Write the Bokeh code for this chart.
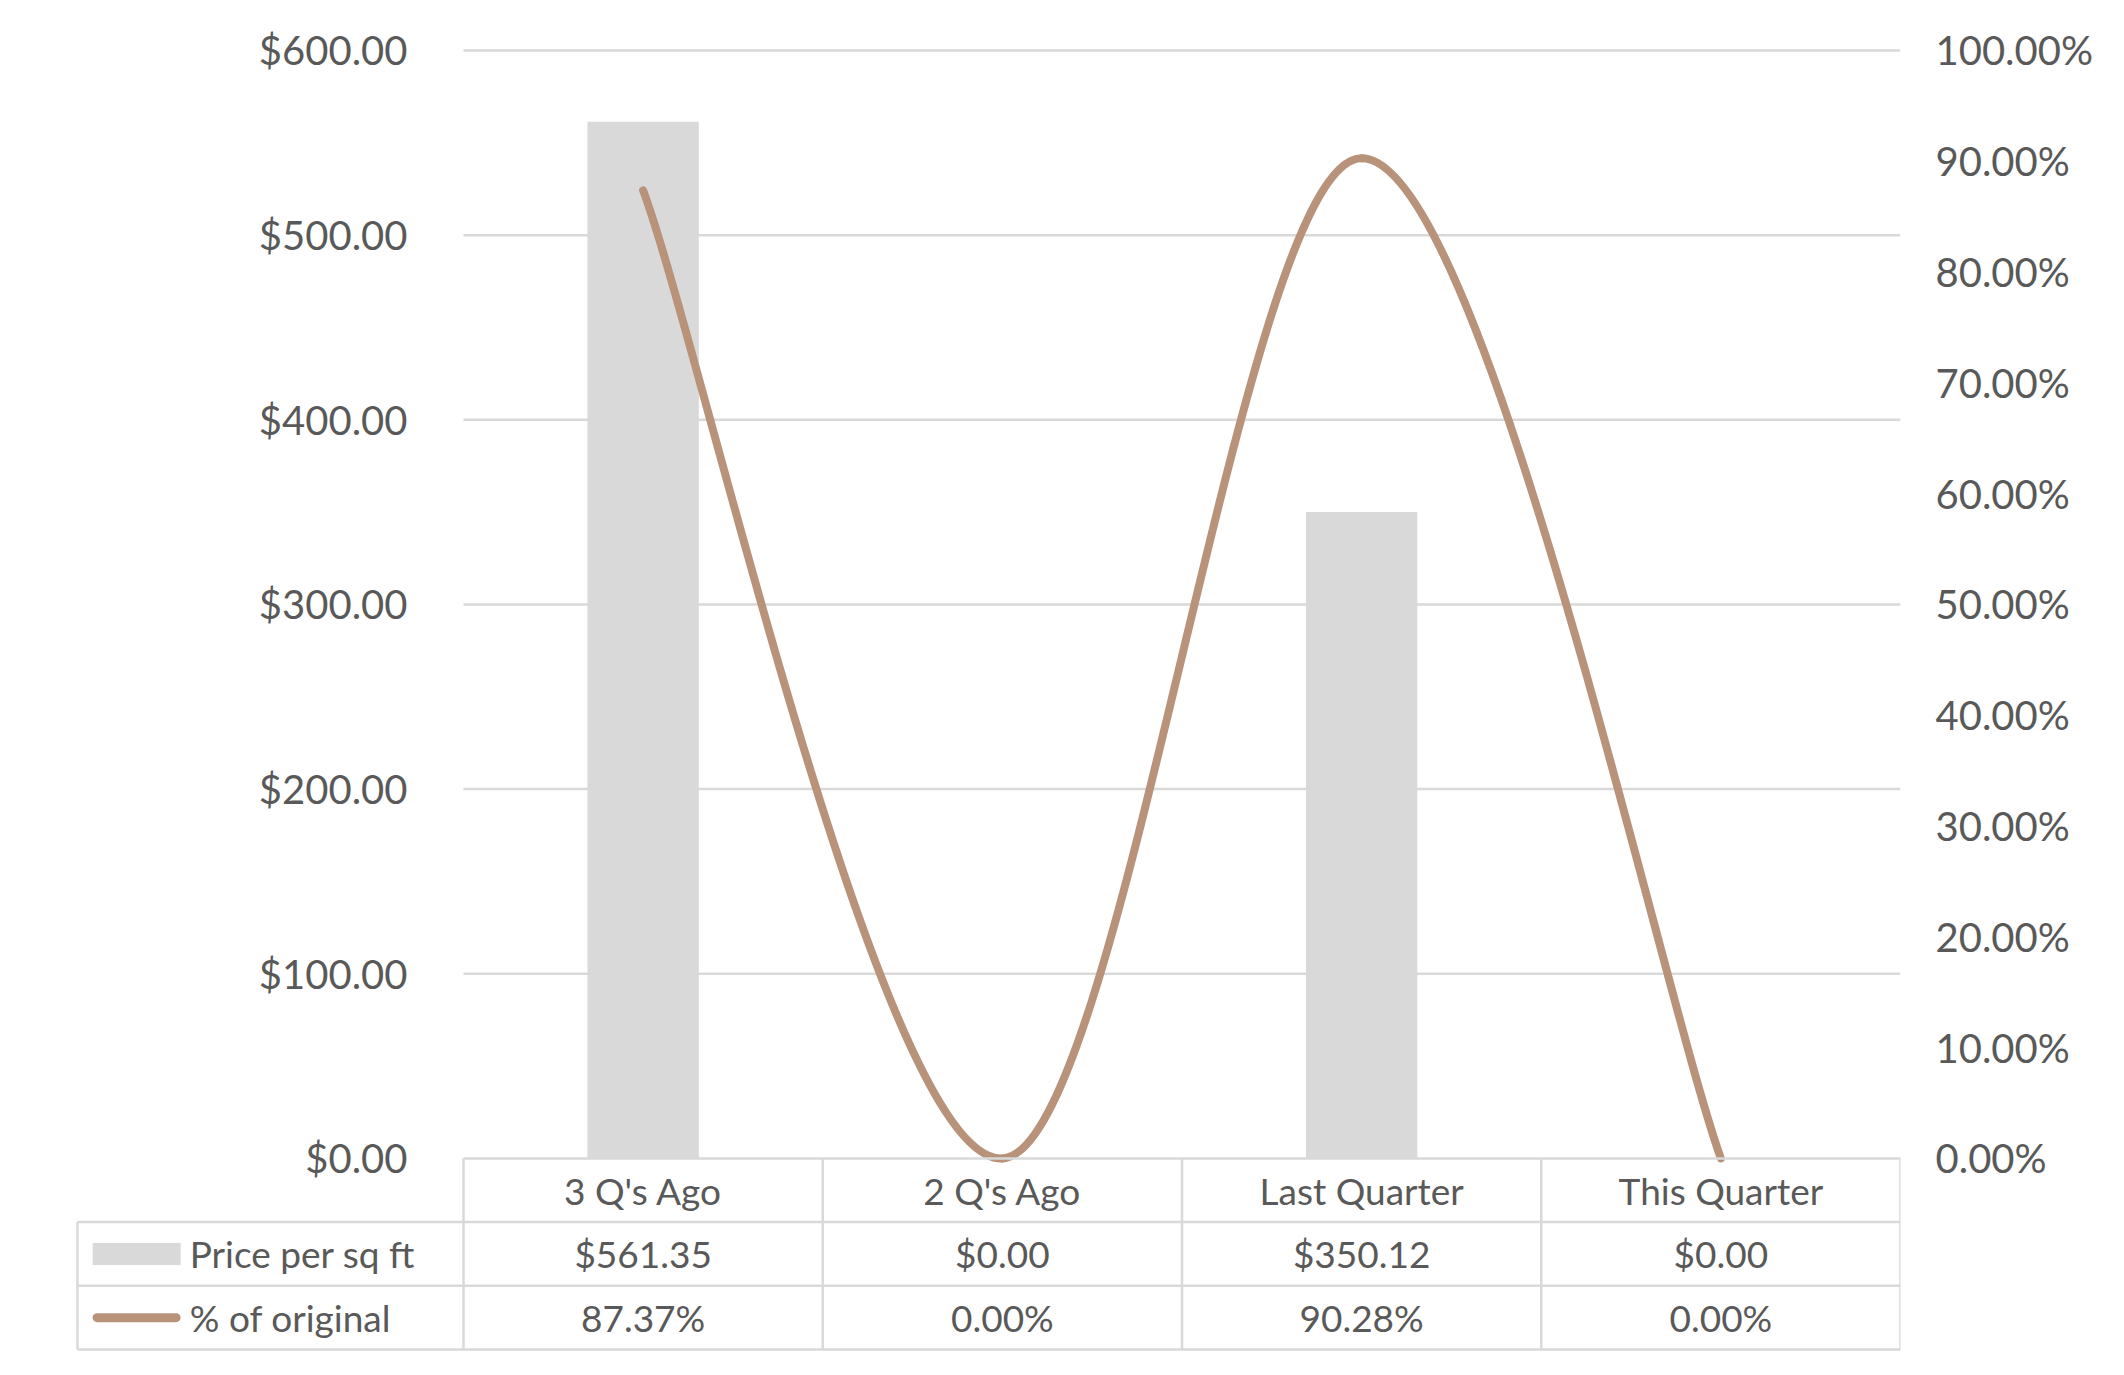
from bokeh.plotting import figure
from bokeh.models import Range1d, LinearAxis, FixedTicker, NumeralTickFormatter
from bokeh.core.properties import value
from bokeh.embed import file_html
from bokeh.resources import INLINE

# ---- data ----
categories = ["3 Q's Ago", "2 Q's Ago", "Last Quarter", "This Quarter"]
price_per_sqft = [561.35, 0.00, 350.12, 0.00]
pct_of_original = [0.8737, 0.0, 0.9028, 0.0]
series_names = ["Price per sq ft", "% of original"]
price_ticks = [0, 100, 200, 300, 400, 500, 600]
pct_ticks = [0.0, 0.1, 0.2, 0.3, 0.4, 0.5, 0.6, 0.7, 0.8, 0.9, 1.0]

# ---- layout constants ----
PX_PER_CAT = 359.25
K = 1108 / 600.0            # px per dollar
ROW_H = 63.7 / K            # table row height in dollar units
X_START = -390 / PX_PER_CAT
LEG_W = 386 / PX_PER_CAT
Y_END = 600 + 30 / K
Y_START = -3 * ROW_H - 3 / K

FONT = value("Lato")
TXT = "#595959"
GRID = "#D9D9D9"
BAR = "#D9D9D9"
LINE = "#B8937A"

n = len(categories)
xs = [i + 0.5 for i in range(n)]

p = figure(width=2108, height=1360,
           x_range=Range1d(X_START, n), y_range=Range1d(Y_START, Y_END),
           output_backend="svg", toolbar_location=None,
           x_axis_location=None, y_axis_location=None,
           min_border_left=73, min_border_right=208,
           min_border_top=20, min_border_bottom=8)
p.outline_line_color = None
p.grid.visible = False
p.extra_y_ranges = {"pct": Range1d(Y_START / 600.0, Y_END / 600.0)}

# axes
ly = LinearAxis(ticker=FixedTicker(ticks=price_ticks),
                formatter=NumeralTickFormatter(format="$0,0.00"))
ly.fixed_location = 0
ry = LinearAxis(y_range_name="pct", ticker=FixedTicker(ticks=pct_ticks),
                formatter=NumeralTickFormatter(format="0.00%"))
for ax, so in ((ly, 50), (ry, 29)):
    ax.axis_line_color = None
    ax.major_tick_line_color = None
    ax.minor_tick_line_color = None
    ax.major_label_standoff = so
    ax.major_label_text_font = "Lato"
    ax.major_label_text_font_size = "40px"
    ax.major_label_text_color = TXT
p.add_layout(ly, "left")
p.add_layout(ry, "right")

# gridlines
g = price_ticks[1:]
p.segment(x0=[0] * len(g), y0=g, x1=[n] * len(g), y1=g,
          line_color=GRID, line_width=2.5)

# bars
p.vbar(x=xs, top=price_per_sqft, bottom=0, width=0.31,
       fill_color=BAR, line_color=None)

# smoothed line (Catmull-Rom style Bezier through the data points)
pts = list(zip(xs, pct_of_original))
bx0, by0, bx1, by1, c0x, c0y, c1x, c1y = [], [], [], [], [], [], [], []
for i in range(len(pts) - 1):
    p0 = pts[i - 1] if i > 0 else pts[i]
    p1 = pts[i]
    p2 = pts[i + 1]
    p3 = pts[i + 2] if i + 2 < len(pts) else pts[i + 1]
    bx0.append(p1[0]); by0.append(p1[1])
    bx1.append(p2[0]); by1.append(p2[1])
    c0x.append(p1[0] + (p2[0] - p0[0]) / 6); c0y.append(p1[1] + (p2[1] - p0[1]) / 6)
    c1x.append(p2[0] - (p3[0] - p1[0]) / 6); c1y.append(p2[1] - (p3[1] - p1[1]) / 6)
p.bezier(x0=bx0, y0=by0, x1=bx1, y1=by1, cx0=c0x, cy0=c0y, cx1=c1x, cy1=c1y,
         line_color=LINE, line_width=8, line_cap="round", y_range_name="pct")

# data table
hx0 = [0, -LEG_W, -LEG_W, -LEG_W]
hx1 = [n, n, n, n]
hy = [0, -ROW_H, -2 * ROW_H, -3 * ROW_H]
p.segment(x0=hx0, y0=hy, x1=hx1, y1=hy, line_color=GRID, line_width=2.5)
vx = [float(i) for i in range(n + 1)] + [-LEG_W]
vy0 = [0.0] * (n + 1) + [-ROW_H]
vy1 = [-3 * ROW_H] * (n + 2)
p.segment(x0=vx, y0=vy0, x1=vx, y1=vy1, line_color=GRID, line_width=2.5)

tkw = dict(text_align="center", text_baseline="middle", text_font=FONT,
           text_font_size="37px", text_color=TXT)
p.text(x=xs, y=[-0.5 * ROW_H] * n, text=categories, **tkw)
p.text(x=xs, y=[-1.5 * ROW_H] * n,
       text=["${:,.2f}".format(v) for v in price_per_sqft], **tkw)
p.text(x=xs, y=[-2.5 * ROW_H] * n,
       text=["{:.2f}%".format(v * 100) for v in pct_of_original], **tkw)

# legend keys in table
p.rect(x=[-0.910], y=[-1.5 * ROW_H], width=0.245, height=22 / K,
       fill_color=BAR, line_color=None)
p.segment(x0=[-1.020], y0=[-2.5 * ROW_H], x1=[-0.800], y1=[-2.5 * ROW_H],
          line_color=LINE, line_width=9, line_cap="round")
p.text(x=[-0.762, -0.762], y=[-1.5 * ROW_H, -2.5 * ROW_H], text=series_names,
       text_align="left", text_baseline="middle", text_font=FONT,
       text_font_size="37px", text_color=TXT)

open("out.html", "w").write(file_html(p, INLINE))
